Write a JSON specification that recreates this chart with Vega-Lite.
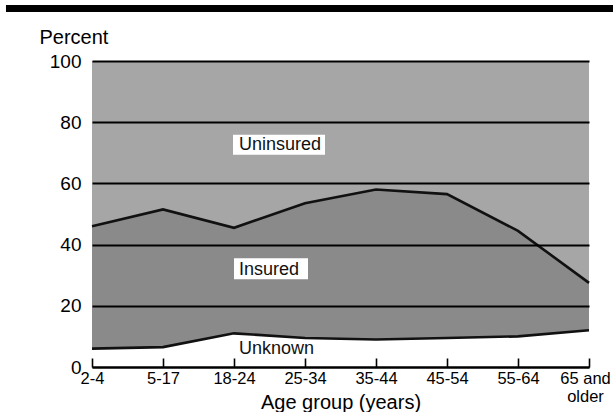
{
  "$schema": "https://vega.github.io/schema/vega-lite/v6.json",
  "padding": {"left": 5, "top": 5, "right": 0, "bottom": 0},
  "spacing": 15,
  "config": {"view": {"stroke": null}, "font": "Liberation Sans"},
  "datasets": {
    "shares": [
      {"age": "2-4", "status": "Unknown", "pct": 6},
      {"age": "2-4", "status": "Insured", "pct": 40},
      {"age": "2-4", "status": "Uninsured", "pct": 54},
      {"age": "5-17", "status": "Unknown", "pct": 6.5},
      {"age": "5-17", "status": "Insured", "pct": 45},
      {"age": "5-17", "status": "Uninsured", "pct": 48.5},
      {"age": "18-24", "status": "Unknown", "pct": 11},
      {"age": "18-24", "status": "Insured", "pct": 34.5},
      {"age": "18-24", "status": "Uninsured", "pct": 54.5},
      {"age": "25-34", "status": "Unknown", "pct": 9.5},
      {"age": "25-34", "status": "Insured", "pct": 44},
      {"age": "25-34", "status": "Uninsured", "pct": 46.5},
      {"age": "35-44", "status": "Unknown", "pct": 9},
      {"age": "35-44", "status": "Insured", "pct": 49},
      {"age": "35-44", "status": "Uninsured", "pct": 42},
      {"age": "45-54", "status": "Unknown", "pct": 9.5},
      {"age": "45-54", "status": "Insured", "pct": 47},
      {"age": "45-54", "status": "Uninsured", "pct": 43.5},
      {"age": "55-64", "status": "Unknown", "pct": 10},
      {"age": "55-64", "status": "Insured", "pct": 34.5},
      {"age": "55-64", "status": "Uninsured", "pct": 55.5},
      {"age": "65 and older", "status": "Unknown", "pct": 12},
      {"age": "65 and older", "status": "Insured", "pct": 15.5},
      {"age": "65 and older", "status": "Uninsured", "pct": 72.5}
    ],
    "labels": [
      {"label": "Uninsured", "age": "18-24", "pct": 71},
      {"label": "Insured", "age": "18-24", "pct": 30},
      {"label": "Unknown", "age": "18-24", "pct": 4.2}
    ]
  },
  "vconcat": [
    {
      "width": 522,
      "height": 7,
      "data": {"values": [{"part": "top rule"}]},
      "mark": {"type": "rect", "color": "#000000", "clip": false},
      "encoding": {
        "x": {"datum": -0.1648, "type": "quantitative", "scale": {"domain": [0, 1], "nice": false, "zero": false}, "axis": null},
        "x2": {"datum": 1},
        "y": {"datum": 0, "type": "quantitative", "scale": {"domain": [0, 1], "nice": false, "zero": false}, "axis": null},
        "y2": {"datum": 1}
      }
    },
    {
      "width": 497,
      "height": 306,
      "layer": [
        {
          "data": {"name": "shares"},
          "transform": [
            {"calculate": "indexof(['Unknown','Insured','Uninsured'], datum.status)", "as": "rank"},
            {"stack": "pct", "groupby": ["age"], "sort": [{"field": "rank", "order": "ascending"}], "as": ["lo", "hi"]}
          ],
          "layer": [
            {
              "transform": [{"filter": "datum.status === 'Uninsured'"}],
              "mark": {"type": "area", "color": "#a6a6a6", "opacity": 1},
              "encoding": {
                "x": {
                  "field": "age", "type": "nominal", "title": "Age group (years)",
                  "scale": {"type": "point", "padding": 0, "domain": ["2-4", "5-17", "18-24", "25-34", "35-44", "45-54", "55-64", "65 and older"]},
                  "axis": {
                    "labelAngle": 0, "labelFontSize": 16.5, "labelColor": "#000000", "labelPadding": 12,
                    "labelLineHeight": 18, "labelOverlap": false,
                    "labelExpr": "datum.value === '65 and older' ? ['65 and', 'older'] : datum.label",
                    "labelOffset": {"condition": {"test": "datum.value === '65 and older'", "value": -4}, "value": 0},
                    "domainColor": "#000000", "domainWidth": 1.8,
                    "tickColor": "#000000", "tickWidth": 1.6, "tickSize": -9,
                    "titleFontSize": 20, "titleFontWeight": "normal", "titleColor": "#000000",
                    "titleBaseline": "alphabetic", "titleY": 41, "zindex": 1
                  }
                },
                "y": {
                  "field": "hi", "type": "quantitative", "title": "Percent",
                  "scale": {"domain": [0, 100], "nice": false},
                  "axis": {
                    "values": [0, 20, 40, 60, 80, 100], "grid": true, "gridColor": "#000000", "gridWidth": 1.8, "gridOpacity": 1,
                    "domain": false, "ticks": false, "labelFontSize": 19, "labelColor": "#000000", "labelPadding": 11,
                    "titleAngle": 0, "titleAlign": "left", "titleBaseline": "alphabetic", "titleX": -53, "titleY": -18,
                    "titleFontSize": 20, "titleFontWeight": "normal", "titleColor": "#000000", "zindex": 1
                  }
                },
                "y2": {"field": "lo"}
              }
            },
            {
              "transform": [{"filter": "datum.status === 'Insured'"}],
              "mark": {"type": "area", "color": "#8a8a8a", "opacity": 1},
              "encoding": {
                "x": {"field": "age", "type": "nominal", "title": "Age group (years)"},
                "y": {"field": "hi", "type": "quantitative", "title": "Percent"},
                "y2": {"field": "lo"}
              }
            },
            {
              "transform": [{"filter": "datum.status === 'Unknown'"}],
              "mark": {"type": "area", "color": "#ffffff", "opacity": 1},
              "encoding": {
                "x": {"field": "age", "type": "nominal", "title": "Age group (years)"},
                "y": {"field": "hi", "type": "quantitative", "title": "Percent"},
                "y2": {"field": "lo"}
              }
            },
            {
              "transform": [{"filter": "datum.status === 'Insured'"}],
              "mark": {"type": "line", "color": "#111111", "strokeWidth": 2.6},
              "encoding": {
                "x": {"field": "age", "type": "nominal", "title": "Age group (years)"},
                "y": {"field": "hi", "type": "quantitative", "title": "Percent"}
              }
            },
            {
              "transform": [{"filter": "datum.status === 'Unknown'"}],
              "mark": {"type": "line", "color": "#111111", "strokeWidth": 2.6},
              "encoding": {
                "x": {"field": "age", "type": "nominal", "title": "Age group (years)"},
                "y": {"field": "hi", "type": "quantitative", "title": "Percent"}
              }
            }
          ]
        },
        {
          "data": {"name": "labels"},
          "layer": [
            {
              "transform": [{"filter": "datum.label === 'Uninsured'"}],
              "mark": {"type": "rect", "color": "#ffffff", "opacity": 1, "xOffset": -1, "x2Offset": 91, "yOffset": -15, "y2Offset": 5},
              "encoding": {
                "x": {"field": "age", "type": "nominal", "title": "Age group (years)"},
                "x2": {"field": "age"},
                "y": {"field": "pct", "type": "quantitative", "title": "Percent"},
                "y2": {"field": "pct"}
              }
            },
            {
              "transform": [{"filter": "datum.label === 'Insured'"}],
              "mark": {"type": "rect", "color": "#ffffff", "opacity": 1, "xOffset": 0, "x2Offset": 74, "yOffset": -17, "y2Offset": 4},
              "encoding": {
                "x": {"field": "age", "type": "nominal", "title": "Age group (years)"},
                "x2": {"field": "age"},
                "y": {"field": "pct", "type": "quantitative", "title": "Percent"},
                "y2": {"field": "pct"}
              }
            },
            {
              "mark": {"type": "text", "align": "left", "baseline": "alphabetic", "dx": 5, "fontSize": 18, "fill": "#111111"},
              "encoding": {
                "x": {"field": "age", "type": "nominal", "title": "Age group (years)"},
                "y": {"field": "pct", "type": "quantitative", "title": "Percent"},
                "text": {"field": "label"}
              }
            }
          ]
        }
      ]
    }
  ]
}
